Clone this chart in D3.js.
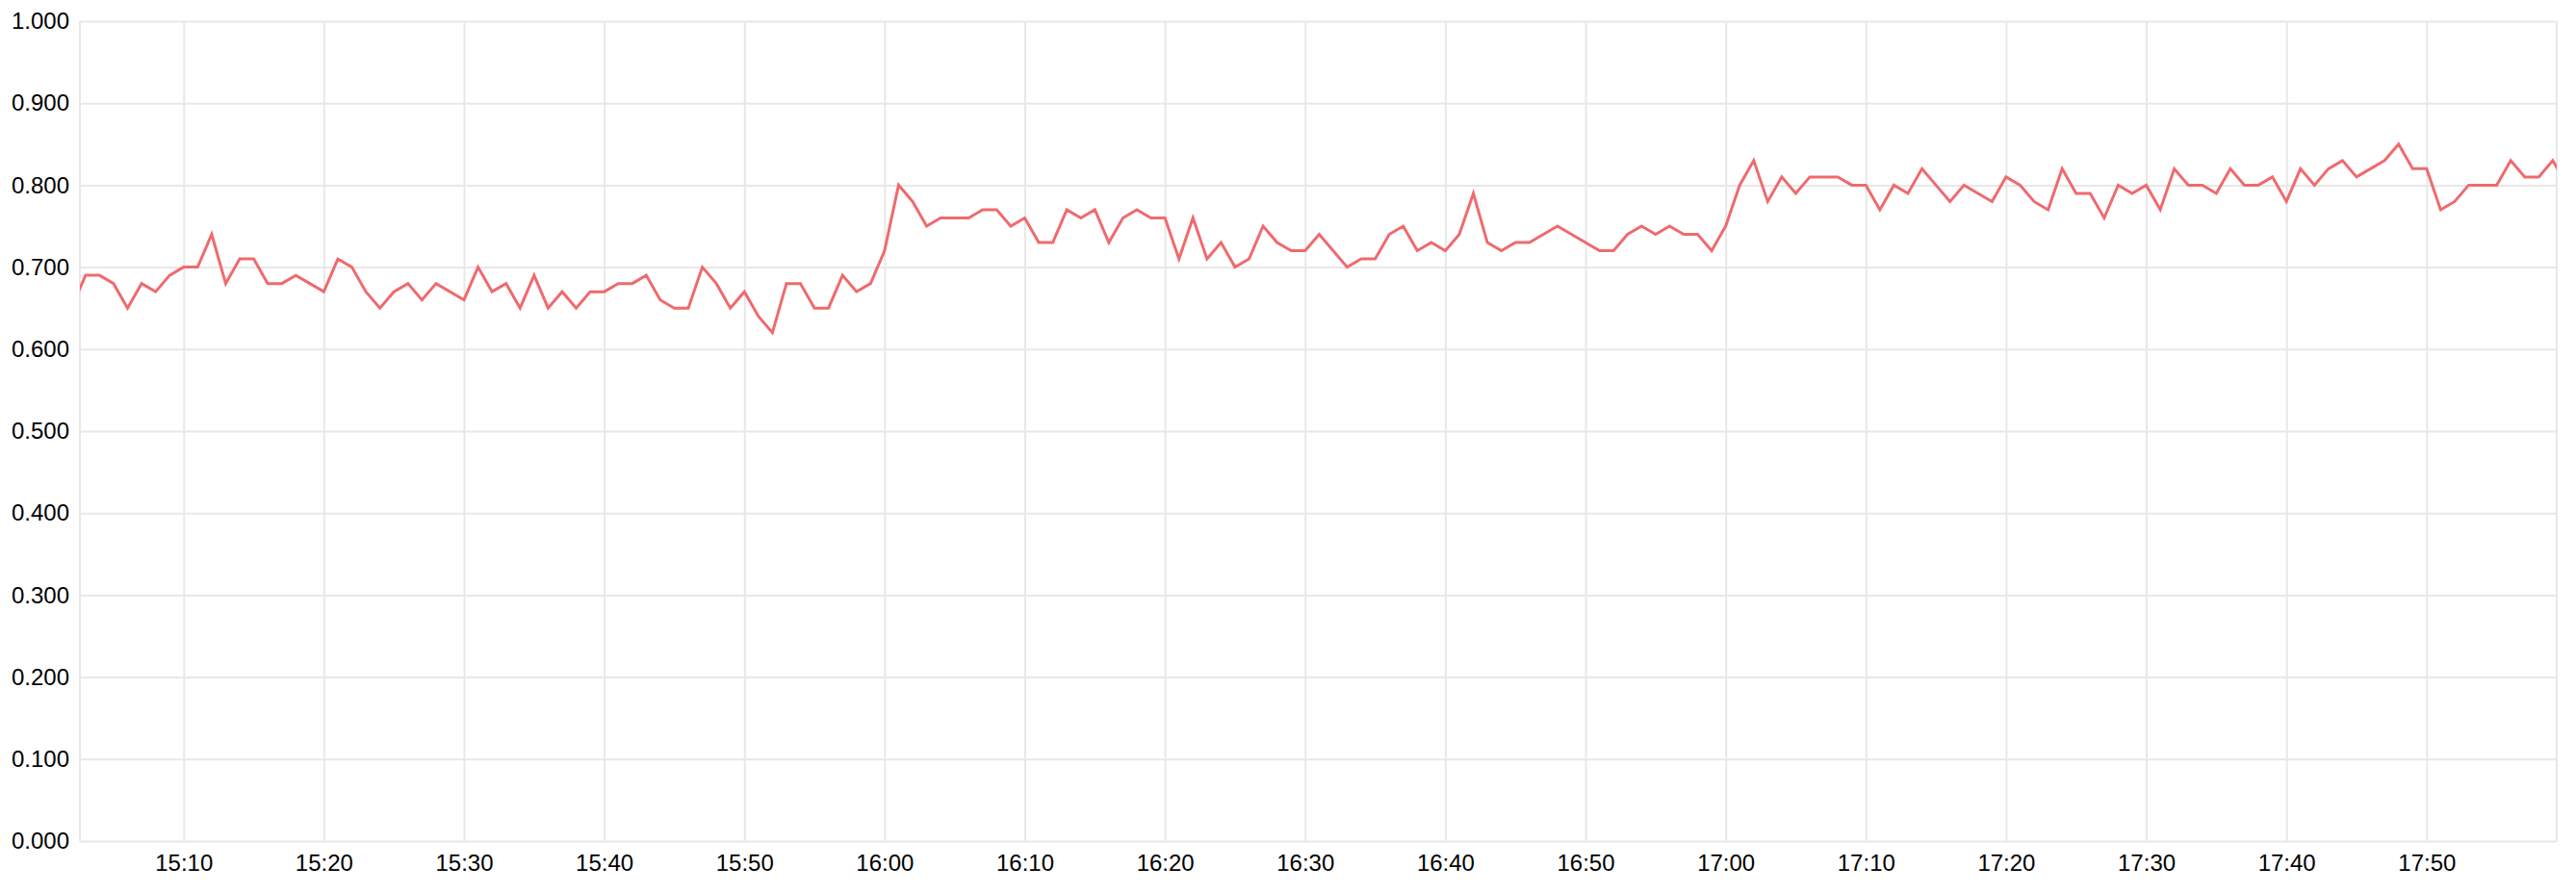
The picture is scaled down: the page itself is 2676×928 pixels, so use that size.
<!DOCTYPE html>
<html>
<head>
<meta charset="utf-8">
<script src="https://cdn.jsdelivr.net/npm/d3@7"></script>
<style>
  html, body { margin: 0; padding: 0; background: #fff; }
  svg { display: block; }
  .tick text { font-family: "Liberation Sans", Arial, Helvetica, sans-serif; }
</style>
</head>
<body>
<svg id="chart" width="2676" height="928"></svg>
<script>
// ---- data ----
const startTime = "15:02";          // first sample, one sample per minute
const values = [
  0.65, 0.69, 0.69, 0.68, 0.65, 0.68, 0.67, 0.69,             // 15:02-15:09
  0.70, 0.70, 0.74, 0.68, 0.71, 0.71, 0.68, 0.68, 0.69, 0.68, // 15:10-15:19
  0.67, 0.71, 0.70, 0.67, 0.65, 0.67, 0.68, 0.66, 0.68, 0.67, // 15:20-15:29
  0.66, 0.70, 0.67, 0.68, 0.65, 0.69, 0.65, 0.67, 0.65, 0.67, // 15:30-15:39
  0.67, 0.68, 0.68, 0.69, 0.66, 0.65, 0.65, 0.70, 0.68, 0.65, // 15:40-15:49
  0.67, 0.64, 0.62, 0.68, 0.68, 0.65, 0.65, 0.69, 0.67, 0.68, // 15:50-15:59
  0.72, 0.80, 0.78, 0.75, 0.76, 0.76, 0.76, 0.77, 0.77, 0.75, // 16:00-16:09
  0.76, 0.73, 0.73, 0.77, 0.76, 0.77, 0.73, 0.76, 0.77, 0.76, // 16:10-16:19
  0.76, 0.71, 0.76, 0.71, 0.73, 0.70, 0.71, 0.75, 0.73, 0.72, // 16:20-16:29
  0.72, 0.74, 0.72, 0.70, 0.71, 0.71, 0.74, 0.75, 0.72, 0.73, // 16:30-16:39
  0.72, 0.74, 0.79, 0.73, 0.72, 0.73, 0.73, 0.74, 0.75, 0.74, // 16:40-16:49
  0.73, 0.72, 0.72, 0.74, 0.75, 0.74, 0.75, 0.74, 0.74, 0.72, // 16:50-16:59
  0.75, 0.80, 0.83, 0.78, 0.81, 0.79, 0.81, 0.81, 0.81, 0.80, // 17:00-17:09
  0.80, 0.77, 0.80, 0.79, 0.82, 0.80, 0.78, 0.80, 0.79, 0.78, // 17:10-17:19
  0.81, 0.80, 0.78, 0.77, 0.82, 0.79, 0.79, 0.76, 0.80, 0.79, // 17:20-17:29
  0.80, 0.77, 0.82, 0.80, 0.80, 0.79, 0.82, 0.80, 0.80, 0.81, // 17:30-17:39
  0.78, 0.82, 0.80, 0.82, 0.83, 0.81, 0.82, 0.83, 0.85, 0.82, // 17:40-17:49
  0.82, 0.77, 0.78, 0.80, 0.80, 0.80, 0.83, 0.81, 0.81, 0.83, // 17:50-17:59
  0.80                                                        // 18:00
];
const viewStart = "15:02:36";
const viewEnd = "17:59:17";
const yTickValues = [0, 0.1, 0.2, 0.3, 0.4, 0.5, 0.6, 0.7, 0.8, 0.9, 1.0];

// ---- build ----
const parseHM = d3.timeParse("%Y-%m-%d %H:%M");
const parseHMS = d3.timeParse("%Y-%m-%d %H:%M:%S");
const day = "2024-01-01";
const t0 = parseHM(day + " " + startTime);
const data = values.map((v, i) => ({ t: d3.timeMinute.offset(t0, i), v }));

const margin = { left: 83, right: 20, top: 22, bottom: 54 };
const W = 2676, H = 928;
const x = d3.scaleTime()
  .domain([parseHMS(day + " " + viewStart), parseHMS(day + " " + viewEnd)])
  .range([margin.left, W - margin.right]);
const y = d3.scaleLinear().domain([0, 1]).range([H - margin.bottom, margin.top]);

const svg = d3.select("#chart");
const gridColor = "#e8e8e8";

// horizontal grid + y labels
const yAxis = svg.append("g")
  .attr("transform", `translate(${margin.left},0)`)
  .call(d3.axisLeft(y).tickValues(yTickValues).tickFormat(d3.format(".3f"))
    .tickSize(-(x.range()[1] - x.range()[0])).tickPadding(11));
yAxis.select(".domain").remove();
yAxis.selectAll(".tick line").attr("stroke", gridColor).attr("stroke-width", 2);
yAxis.selectAll(".tick text").attr("font-size", 24).attr("fill", "#000");

// vertical grid + x labels
const xAxis = svg.append("g")
  .attr("transform", `translate(0,${y(0)})`)
  .call(d3.axisBottom(x).ticks(d3.timeMinute.every(10)).tickFormat(d3.timeFormat("%H:%M"))
    .tickSize(-(y(0) - y(1))).tickPadding(14));
xAxis.select(".domain").remove();
xAxis.selectAll(".tick line").attr("stroke", gridColor).attr("stroke-width", 2);
xAxis.selectAll(".tick text").attr("font-size", 24).attr("fill", "#000");

// plot border (left/right)
svg.append("line").attr("x1", x.range()[0]).attr("x2", x.range()[0])
  .attr("y1", y(1)).attr("y2", y(0)).attr("stroke", gridColor).attr("stroke-width", 2);
svg.append("line").attr("x1", x.range()[1]).attr("x2", x.range()[1])
  .attr("y1", y(1)).attr("y2", y(0)).attr("stroke", gridColor).attr("stroke-width", 2);

// clip + line
svg.append("clipPath").attr("id", "clip").append("rect")
  .attr("x", x.range()[0]).attr("y", y(1) - 5)
  .attr("width", x.range()[1] - x.range()[0]).attr("height", y(0) - y(1) + 10);

svg.append("path")
  .datum(data)
  .attr("clip-path", "url(#clip)")
  .attr("fill", "none")
  .attr("stroke", "#ef6a6e")
  .attr("stroke-width", 3)
  .attr("stroke-linejoin", "miter")
  .attr("d", d3.line().x(d => x(d.t)).y(d => y(d.v)));
</script>
</body>
</html>
